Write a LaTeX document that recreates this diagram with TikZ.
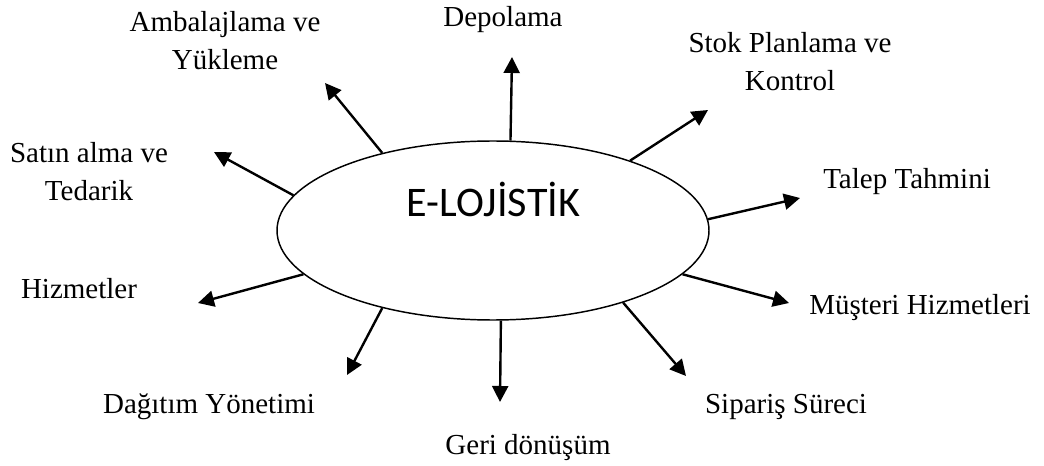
\documentclass[tikz,border=0pt]{standalone}
\usepackage{fontspec}
\setmainfont{Liberation Serif}
\newfontfamily\titlefont{Carlito}
\usetikzlibrary{shapes.geometric,arrows.meta}
\begin{document}
\begin{tikzpicture}[x=0.75pt,y=-0.75pt,
  hub/.style={ellipse, draw, line width=1.1pt, minimum width=324pt,
    minimum height=134.25pt, inner sep=0pt},
  title/.style={font=\titlefont\fontsize{31.6}{36}\selectfont, anchor=base, inner sep=0pt},
  lbl/.style={font=\fontsize{21.75}{28.5}\selectfont, anchor=base, inner sep=0pt, align=center},
  spoke/.style={line width=1.8pt, -{Triangle[length=12pt,width=12pt]}}]
\useasboundingbox (0,0) rectangle (1044,466);

% central ellipse and its title
\node[hub] (hub) at (493,230.5) {};
\node[title] (ttl) at (493.5,216.7) {E-LOJİSTİK};

% surrounding activities (multi-line labels sit on their last baseline)
\node[lbl] (amb) at (225,70) {Ambalajlama ve\\Yükleme};
\node[lbl] (dep) at (503,27) {Depolama};
\node[lbl] (stk) at (790,91) {Stok Planlama ve\\Kontrol};
\node[lbl] (sat) at (89,201) {Satın alma ve\\Tedarik};
\node[lbl] (tlp) at (907,189) {Talep Tahmini};
\node[lbl] (hiz) at (79,298) {Hizmetler};
\node[lbl] (mus) at (920,314) {Müşteri Hizmetleri};
\node[lbl] (dag) at (209,413) {Dağıtım Yönetimi};
\node[lbl] (sip) at (786,413) {Sipariş Süreci};
\node[lbl] (ger) at (528,454) {Geri dönüşüm};

% arrow tips
\coordinate (tDep) at (512,57);
\coordinate (tAmb) at (325,83);
\coordinate (tStk) at (708,110);
\coordinate (tTlp) at (800,198);
\coordinate (tSat) at (214,152);
\coordinate (tHiz) at (198,303);
\coordinate (tMus) at (789,303);
\coordinate (tDag) at (347,375);
\coordinate (tSip) at (686,376);
\coordinate (tGer) at (500,402);

% spokes from the ellipse
\draw[spoke] (hub.79.1) -- (tDep);
\draw[spoke] (hub.145.9) -- (tAmb);
\draw[spoke] (hub.27.4) -- (tStk);
\draw[spoke] (hub.3.1) -- (tTlp);
\draw[spoke] (hub.170.8) -- (tSat);
\draw[spoke] (hub.193.9) -- (tHiz);
\draw[spoke] (hub.-13.3) -- (tMus);
\draw[spoke] (hub.215.5) -- (tDag);
\draw[spoke] (hub.-29.7) -- (tSip);
\draw[spoke] (hub.-85.6) -- (tGer);
\end{tikzpicture}
\end{document}
